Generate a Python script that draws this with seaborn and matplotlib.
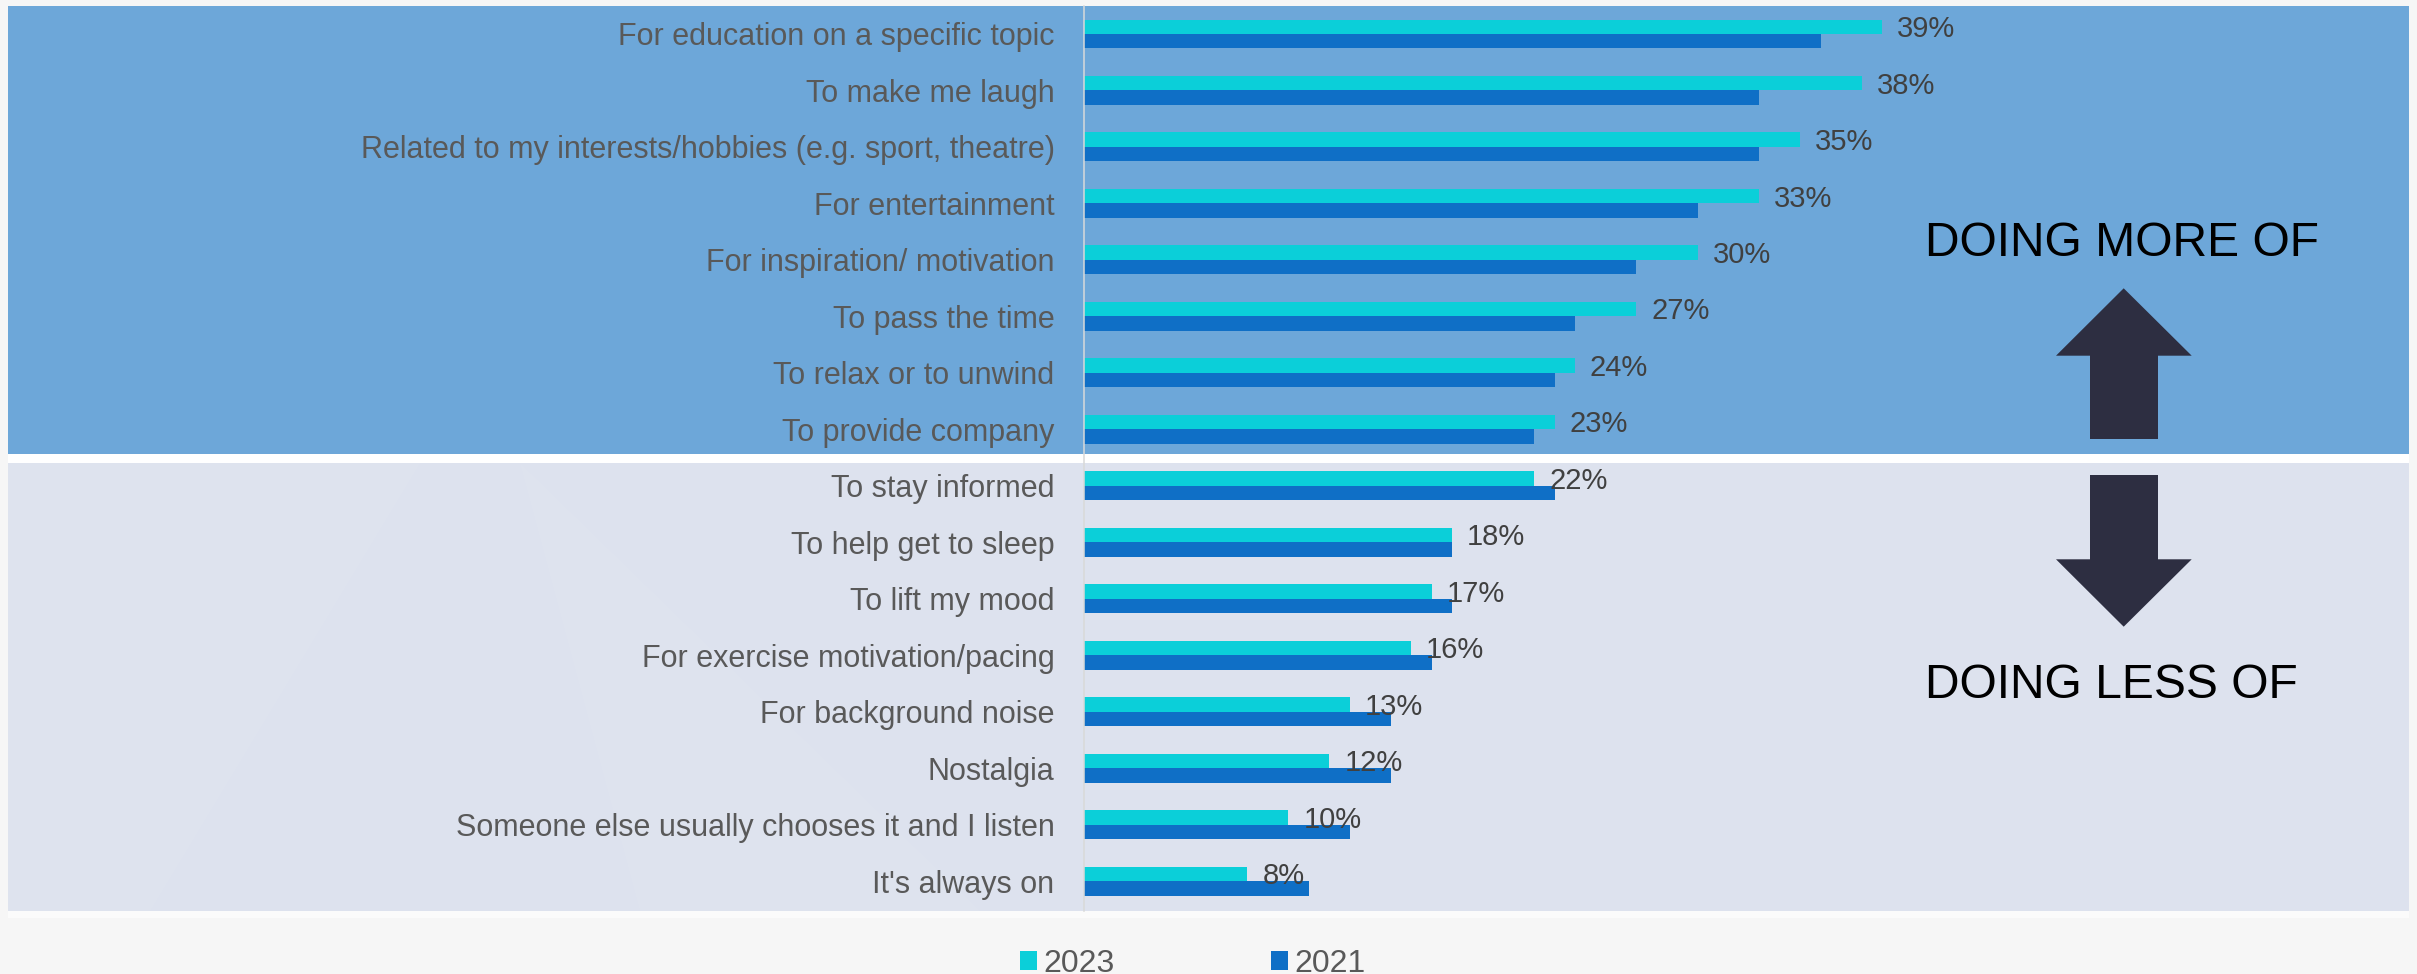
import matplotlib
matplotlib.use("Agg")
import matplotlib.pyplot as plt
from matplotlib.patches import Rectangle, Polygon, Patch
import seaborn as sns
import pandas as pd

# ---- data -------------------------------------------------------------
categories = [
    "For education on a specific topic",
    "To make me laugh",
    "Related to my interests/hobbies (e.g. sport, theatre)",
    "For entertainment",
    "For inspiration/ motivation",
    "To pass the time",
    "To relax or to unwind",
    "To provide company",
    "To stay informed",
    "To help get to sleep",
    "To lift my mood",
    "For exercise motivation/pacing",
    "For background noise",
    "Nostalgia",
    "Someone else usually chooses it and I listen",
    "It's always on",
]
share_2023 = [39, 38, 35, 33, 30, 27, 24, 23, 22, 18, 17, 16, 13, 12, 10, 8]
share_2021 = [36, 33, 33, 30, 27, 24, 23, 22, 23, 18, 18, 17, 15, 15, 13, 11]
years = ["2023", "2021"]
more_label = "DOING MORE OF"
less_label = "DOING LESS OF"

# ---- style ------------------------------------------------------------
CYAN = "#0BCFD9"
BLUE = "#0F6FC6"
PANEL_TOP = "#6DA7D9"
PANEL_LOW = "#DDE2EE"
ARROW = "#2D2E41"
LABEL_GREY = "#595959"
VALUE_GREY = "#404040"

sns.set_theme(style="white")
plt.rcParams["font.family"] = ["Liberation Sans", "DejaVu Sans"]

W, H = 2417, 974
DPI = 100
fig = plt.figure(figsize=(W / DPI, H / DPI), dpi=DPI, facecolor="#F6F6F6")

# background layer in pixel coordinates
bg = fig.add_axes([0, 0, 1, 1], zorder=0)
bg.set_xlim(0, W)
bg.set_ylim(H, 0)
bg.axis("off")
bg.add_patch(Rectangle((8, 6), 2401, 448, color=PANEL_TOP, lw=0))
bg.add_patch(Rectangle((8, 454), 2401, 9, color="white", lw=0))
bg.add_patch(Rectangle((8, 463), 2401, 448, color=PANEL_LOW, lw=0))
bg.add_patch(Rectangle((8, 911), 2401, 7, color="#FBFBFB", lw=0))

# faint facets on the lower panel
bg.add_patch(Polygon([(8, 463), (420, 463), (150, 911), (8, 911)],
                     closed=True, color="white", alpha=0.05, lw=0))
bg.add_patch(Polygon([(520, 463), (980, 911), (640, 911)],
                     closed=True, color="white", alpha=0.04, lw=0))

# up / down arrows
cx = 2123.7
up = [(cx, 288.3), (2191.7, 355.7), (2158, 355.7), (2158, 439),
      (2090, 439), (2090, 355.7), (2056, 355.7)]
down = [(2090, 475), (2158, 475), (2158, 559.3), (2191.7, 559.3),
        (cx, 626.7), (2056, 559.3), (2090, 559.3)]
bg.add_patch(Polygon(up, closed=True, color=ARROW, lw=0))
bg.add_patch(Polygon(down, closed=True, color=ARROW, lw=0))
bg.text(1925, 239, more_label, fontsize=34.6, color="black",
        ha="left", va="center_baseline")
bg.text(1925, 680, less_label, fontsize=34.6, color="black",
        ha="left", va="center_baseline")

# ---- bar chart --------------------------------------------------------
x0, x1 = 1083.7, 2409
y_top, y_bot = 6, 911
ax = fig.add_axes([x0 / W, (H - y_bot) / H, (x1 - x0) / W, (y_bot - y_top) / H],
                  zorder=1)
ax.set_facecolor("none")

df = pd.DataFrame({
    "reason": categories * 2,
    "share": share_2023 + share_2021,
    "year": [years[0]] * len(categories) + [years[1]] * len(categories),
})

sns.barplot(data=df, x="share", y="reason", hue="year", order=categories,
            hue_order=years, palette=[CYAN, BLUE], saturation=1,
            width=0.513, errorbar=None, orient="h", legend=False,
            linewidth=0, ax=ax)

px_per_pct = 20.47
pitch = 56.49
ax.set_xlim(0, (x1 - x0) / px_per_pct)
ax.set_ylim((y_bot - 34) / pitch, (y_top - 34) / pitch)

for i, v in enumerate(share_2023):
    ax.annotate(f"{v}%", xy=(v, i - 0.513 / 4), xytext=(10.8, -7.4),
                textcoords="offset points", ha="left", va="baseline",
                fontsize=21, color=VALUE_GREY)

ax.set_xlabel("")
ax.set_ylabel("")
ax.set_xticks([])
ax.tick_params(axis="y", length=0, pad=21, labelsize=22,
               labelcolor=LABEL_GREY)
for side in ("top", "right", "bottom"):
    ax.spines[side].set_visible(False)
ax.spines["left"].set_color("#D9D9D9")
ax.spines["left"].set_linewidth(1.1)

handles = [Patch(facecolor=CYAN, edgecolor="none", label=years[0]),
           Patch(facecolor=BLUE, edgecolor="none", label=years[1])]
fig.legend(handles=handles, loc="center", bbox_to_anchor=(0.4934, 0.0105),
           ncol=2, frameon=False, fontsize=23, handlelength=0.53,
           handleheight=0.5, handletextpad=0.2, columnspacing=4.9,
           borderpad=0, borderaxespad=0, labelcolor="#595959")

fig.savefig("out.png", dpi=DPI, facecolor=fig.get_facecolor())
